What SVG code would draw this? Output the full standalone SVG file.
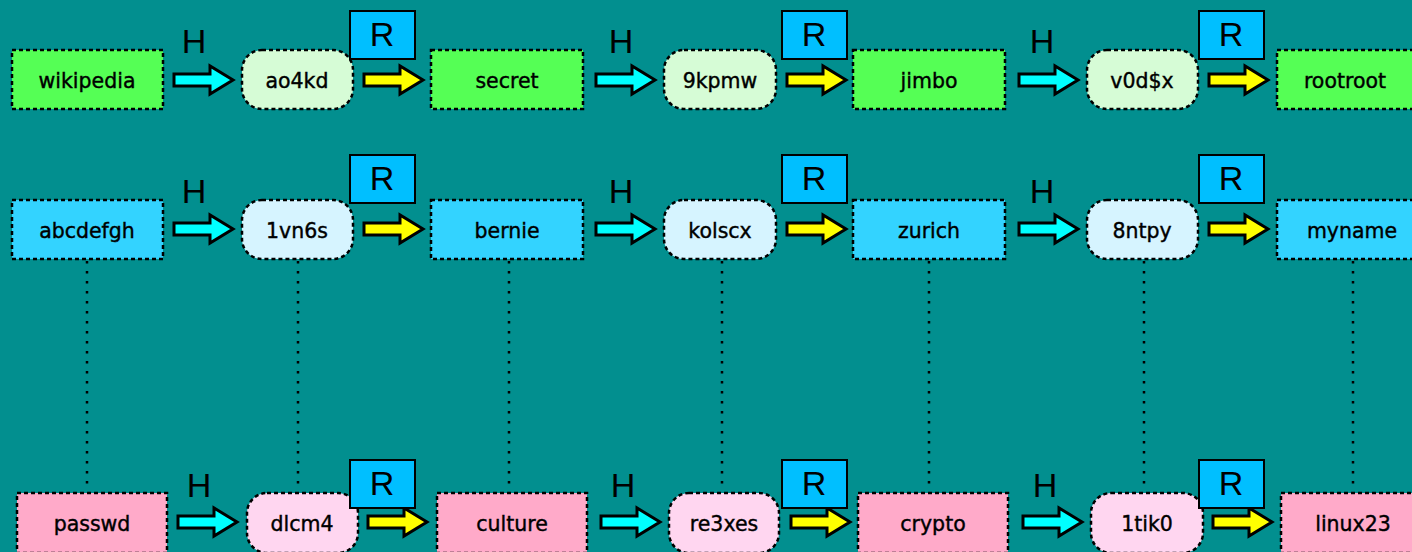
<svg xmlns="http://www.w3.org/2000/svg" xmlns:xlink="http://www.w3.org/1999/xlink" width="1412" height="552" viewBox="0 0 1412 552">
<style>
.n{stroke:#000;stroke-width:2.5;stroke-dasharray:4 3}
.g{fill:#55ff55}.gl{fill:#d6fcd6}
.c{fill:#33d3ff}.cl{fill:#d6f4ff}
.p{fill:#ffaac9}.pl{fill:#ffd6f0}
.t{font-family:"DejaVu Sans",sans-serif;font-size:20.5px;fill:#000;stroke:#000;stroke-width:0.4;text-anchor:middle}
.lab{font-family:"Liberation Sans",Arial,sans-serif;font-size:34px;fill:#000;text-anchor:middle}
.rb{fill:#00bfff;stroke:#000;stroke-width:2}
.ah{fill:#00ffff;stroke:#000;stroke-width:3;stroke-linejoin:miter}
.ay{fill:#ffff00;stroke:#000;stroke-width:3;stroke-linejoin:miter}
.dot{stroke:#000;stroke-width:2.5;stroke-dasharray:2.5 7.5;fill:none}
</style>
<defs>
<path id="arr" d="M0,-6 H36 V-14 L59,0 L36,14 V6 H0 Z"/>
</defs>
<rect width="1412" height="552" fill="#028f8f"/>
<g id="connectors">
<line class="dot" x1="87" y1="261" x2="87" y2="491"/>
<line class="dot" x1="298" y1="261" x2="298" y2="491"/>
<line class="dot" x1="509" y1="261" x2="509" y2="491"/>
<line class="dot" x1="722" y1="261" x2="722" y2="491"/>
<line class="dot" x1="929" y1="261" x2="929" y2="491"/>
<line class="dot" x1="1144" y1="261" x2="1144" y2="491"/>
<line class="dot" x1="1353" y1="261" x2="1353" y2="491"/>
<use xlink:href="#arr" class="ah" x="174" y="80"/>
<use xlink:href="#arr" class="ay" x="364" y="80"/>
<use xlink:href="#arr" class="ah" x="596" y="80"/>
<use xlink:href="#arr" class="ay" x="787" y="80"/>
<use xlink:href="#arr" class="ah" x="1019" y="80"/>
<use xlink:href="#arr" class="ay" x="1209" y="80"/>
<use xlink:href="#arr" class="ah" x="174" y="229"/>
<use xlink:href="#arr" class="ay" x="364" y="229"/>
<use xlink:href="#arr" class="ah" x="596" y="229"/>
<use xlink:href="#arr" class="ay" x="787" y="229"/>
<use xlink:href="#arr" class="ah" x="1019" y="229"/>
<use xlink:href="#arr" class="ay" x="1209" y="229"/>
<use xlink:href="#arr" class="ah" x="178" y="522"/>
<use xlink:href="#arr" class="ay" x="368" y="522"/>
<use xlink:href="#arr" class="ah" x="601" y="522"/>
<use xlink:href="#arr" class="ay" x="791" y="522"/>
<use xlink:href="#arr" class="ah" x="1023" y="522"/>
<use xlink:href="#arr" class="ay" x="1213" y="522"/>
</g>
<g id="n-wikipedia"><rect class="n g" x="12" y="50" width="151" height="59"/><text class="t" x="87" y="88">wikipedia</text></g>
<g id="n-ao4kd"><rect class="n gl" x="242" y="50" width="111" height="59" rx="20"/><text class="t" x="297" y="88">ao4kd</text></g>
<g id="n-secret"><rect class="n g" x="431" y="50" width="152" height="59"/><text class="t" x="507" y="88">secret</text></g>
<g id="n-9kpmw"><rect class="n gl" x="664" y="50" width="112" height="59" rx="20"/><text class="t" x="720" y="88">9kpmw</text></g>
<g id="n-jimbo"><rect class="n g" x="853" y="50" width="152" height="59"/><text class="t" x="929" y="88">jimbo</text></g>
<g id="n-v0dsx"><rect class="n gl" x="1087" y="50" width="111" height="59" rx="20"/><text class="t" x="1142" y="88">v0d$x</text></g>
<g id="n-rootroot"><rect class="n g" x="1277" y="50" width="151" height="59"/><text class="t" x="1345" y="88">rootroot</text></g>

<g id="n-abcdefgh"><rect class="n c" x="12" y="200" width="151" height="59"/><text class="t" x="87" y="238">abcdefgh</text></g>
<g id="n-1vn6s"><rect class="n cl" x="242" y="200" width="111" height="59" rx="20"/><text class="t" x="297" y="238">1vn6s</text></g>
<g id="n-bernie"><rect class="n c" x="431" y="200" width="152" height="59"/><text class="t" x="507" y="238">bernie</text></g>
<g id="n-kolscx"><rect class="n cl" x="664" y="200" width="112" height="59" rx="20"/><text class="t" x="720" y="238">kolscx</text></g>
<g id="n-zurich"><rect class="n c" x="853" y="200" width="152" height="59"/><text class="t" x="929" y="238">zurich</text></g>
<g id="n-8ntpy"><rect class="n cl" x="1087" y="200" width="111" height="59" rx="20"/><text class="t" x="1142" y="238">8ntpy</text></g>
<g id="n-myname"><rect class="n c" x="1277" y="200" width="151" height="59"/><text class="t" x="1352" y="238">myname</text></g>

<g id="n-passwd"><rect class="n p" x="17" y="493" width="150" height="60"/><text class="t" x="92" y="531">passwd</text></g>
<g id="n-dlcm4"><rect class="n pl" x="247" y="493" width="111" height="60" rx="20"/><text class="t" x="302" y="531">dlcm4</text></g>
<g id="n-culture"><rect class="n p" x="437" y="493" width="150" height="60"/><text class="t" x="512" y="531">culture</text></g>
<g id="n-re3xes"><rect class="n pl" x="669" y="493" width="110" height="60" rx="20"/><text class="t" x="724" y="531">re3xes</text></g>
<g id="n-crypto"><rect class="n p" x="858" y="493" width="150" height="60"/><text class="t" x="933" y="531">crypto</text></g>
<g id="n-1tik0"><rect class="n pl" x="1091" y="493" width="112" height="60" rx="20"/><text class="t" x="1147" y="531">1tik0</text></g>
<g id="n-linux23"><rect class="n p" x="1281" y="493" width="150" height="60"/><text class="t" x="1353" y="531">linux23</text></g>

<g id="labels">
<text class="lab" x="194" y="53">H</text>
<text class="lab" x="621" y="53">H</text>
<text class="lab" x="1042" y="53">H</text>
<text class="lab" x="194" y="203">H</text>
<text class="lab" x="621" y="203">H</text>
<text class="lab" x="1042" y="203">H</text>
<text class="lab" x="199" y="497">H</text>
<text class="lab" x="623" y="497">H</text>
<text class="lab" x="1045" y="497">H</text>
<g><rect class="rb" x="350" y="11" width="65" height="48"/><text class="lab" x="382" y="46">R</text></g>
<g><rect class="rb" x="782" y="11" width="65" height="48"/><text class="lab" x="814" y="46">R</text></g>
<g><rect class="rb" x="1199" y="11" width="65" height="48"/><text class="lab" x="1231" y="46">R</text></g>
<g><rect class="rb" x="350" y="155" width="65" height="48"/><text class="lab" x="382" y="190">R</text></g>
<g><rect class="rb" x="782" y="155" width="65" height="48"/><text class="lab" x="814" y="190">R</text></g>
<g><rect class="rb" x="1199" y="155" width="65" height="48"/><text class="lab" x="1231" y="190">R</text></g>
<g><rect class="rb" x="350" y="460" width="65" height="48"/><text class="lab" x="382" y="495">R</text></g>
<g><rect class="rb" x="782" y="460" width="65" height="48"/><text class="lab" x="814" y="495">R</text></g>
<g><rect class="rb" x="1199" y="460" width="65" height="48"/><text class="lab" x="1231" y="495">R</text></g>
</g>
</svg>
